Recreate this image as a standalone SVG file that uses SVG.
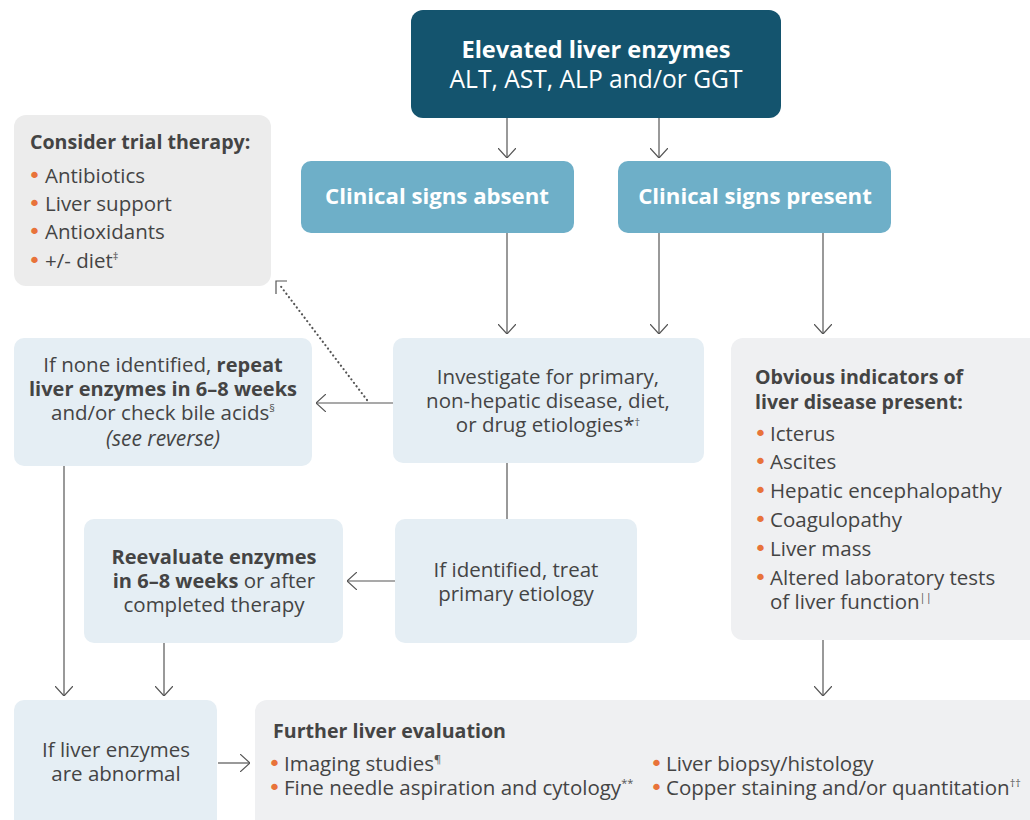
<svg xmlns="http://www.w3.org/2000/svg" width="1030" height="820" viewBox="0 0 1030 820">
<style>
text{font-family:"Open Sans",Lato,"Liberation Sans",sans-serif;fill:#444;font-size:20.5px}
.b{font-weight:bold;font-size:20px}
.h{font-weight:bold;font-size:19.6px}
.w{fill:#fff}
.c{text-anchor:middle}
.t1{font-size:23.6px}
.t1r{font-size:24.6px}
.t2{font-size:22.2px}
.o{fill:#e8733a;font-family:"DejaVu Sans",sans-serif;font-size:22px}
.it{font-style:italic;font-size:21px}
.con{fill:none;stroke:#555;stroke-width:1.2}
.sup{font-size:11px;fill:#555}
</style>
<defs>
<marker id="arr" viewBox="0 0 10 18" refX="10" refY="9" markerWidth="10" markerHeight="18" markerUnits="userSpaceOnUse" orient="auto">
<path d="M0,0 L10,9 L0,18" fill="none" stroke="#555" stroke-width="1.2"/>
</marker>
</defs>
<g id="connectors">
<path class="con" d="M507,118 V158" marker-end="url(#arr)"/>
<path class="con" d="M659,118 V158" marker-end="url(#arr)"/>
<path class="con" d="M507,233 V334" marker-end="url(#arr)"/>
<path class="con" d="M659,233 V334" marker-end="url(#arr)"/>
<path class="con" d="M823,233 V334" marker-end="url(#arr)"/>
<path class="con" d="M393,403 H316" marker-end="url(#arr)"/>
<path d="M367,400 L279,284" fill="none" stroke="#555" stroke-width="2.2" stroke-dasharray="0.1 4.2" stroke-linecap="round"/>
<path d="M276,294 V281 H287" fill="none" stroke="#555" stroke-width="1.2"/>
<path class="con" d="M507,463 V519"/>
<path class="con" d="M395,581 H347" marker-end="url(#arr)"/>
<path class="con" d="M64,466 V696" marker-end="url(#arr)"/>
<path class="con" d="M164,643 V696" marker-end="url(#arr)"/>
<path class="con" d="M823,640 V696" marker-end="url(#arr)"/>
<path class="con" d="M218,763 H250" marker-end="url(#arr)"/>
</g>
<g id="n-elevated">
<rect x="411" y="10" width="370" height="108" rx="12" fill="#14546e"/>
<text class="b w c t1" x="596" y="58">Elevated liver enzymes</text>
<text class="w c t1r" x="596" y="88">ALT, AST, ALP and/or GGT</text>
</g>
<g id="n-absent">
<rect x="301" y="161" width="273" height="72" rx="10" fill="#6eafc8"/>
<text class="b w c t2" x="437" y="204">Clinical signs absent</text>
</g>
<g id="n-present">
<rect x="618" y="161" width="273" height="72" rx="10" fill="#6eafc8"/>
<text class="b w c t2" x="755" y="204">Clinical signs present</text>
</g>
<g id="n-trial">
<rect x="14" y="115" width="257" height="171" rx="12" fill="#ececec"/>
<text class="h" x="30" y="149">Consider trial therapy:</text>
<text class="o" x="28" y="183">•</text><text x="45" y="183">Antibiotics</text>
<text class="o" x="28" y="211">•</text><text x="45" y="211">Liver support</text>
<text class="o" x="28" y="239">•</text><text x="45" y="239">Antioxidants</text>
<text class="o" x="28" y="268">•</text><text x="45" y="268">+/- diet<tspan class="sup" dy="-8">‡</tspan></text>
</g>
<g id="n-none">
<rect x="14" y="338" width="298" height="128" rx="10" fill="#e5eef4"/>
<text class="c" x="163" y="372">If none identified, <tspan class="b">repeat</tspan></text>
<text class="c b" x="163" y="396">liver enzymes in 6–8 weeks</text>
<text class="c" x="163" y="420">and/or check bile acids<tspan class="sup" dy="-8">§</tspan></text>
<text class="c it" x="163" y="446">(see reverse)</text>
</g>
<g id="n-investigate">
<rect x="393" y="338" width="311" height="125" rx="10" fill="#e5eef4"/>
<text class="c" x="548" y="384">Investigate for primary,</text>
<text class="c" x="548" y="408">non-hepatic disease, diet,</text>
<text class="c" x="548" y="432">or drug etiologies*<tspan class="sup" dy="-6">†</tspan></text>
</g>
<g id="n-obvious">
<rect x="731" y="338" width="320" height="302" rx="12" fill="#eff0f2"/>
<text class="h" x="755" y="384">Obvious indicators of</text>
<text class="h" x="755" y="409">liver disease present:</text>
<text class="o" x="754" y="441">•</text><text x="770" y="441">Icterus</text>
<text class="o" x="754" y="469">•</text><text x="770" y="469">Ascites</text>
<text class="o" x="754" y="498">•</text><text x="770" y="498">Hepatic encephalopathy</text>
<text class="o" x="754" y="527">•</text><text x="770" y="527">Coagulopathy</text>
<text class="o" x="754" y="556">•</text><text x="770" y="556">Liver mass</text>
<text class="o" x="754" y="585">•</text><text x="770" y="585">Altered laboratory tests</text>
<text x="770" y="609">of liver function<tspan class="sup" dy="-8">||</tspan></text>
</g>
<g id="n-identified">
<rect x="395" y="519" width="242" height="124" rx="10" fill="#e5eef4"/>
<text class="c" x="516" y="577">If identified, treat</text>
<text class="c" x="516" y="601">primary etiology</text>
</g>
<g id="n-reevaluate">
<rect x="84" y="519" width="259" height="124" rx="10" fill="#e5eef4"/>
<text class="c b" x="214" y="564">Reevaluate enzymes</text>
<text class="c" x="214" y="588"><tspan class="b">in 6–8 weeks</tspan> or after</text>
<text class="c" x="214" y="612">completed therapy</text>
</g>
<g id="n-abnormal">
<rect x="14" y="700" width="203" height="140" rx="10" fill="#e5eef4"/>
<text class="c" x="116" y="757">If liver enzymes</text>
<text class="c" x="116" y="781">are abnormal</text>
</g>
<g id="n-further">
<rect x="255" y="700" width="800" height="140" rx="12" fill="#eff0f2"/>
<text class="h" x="273" y="738">Further liver evaluation</text>
<text class="o" x="268" y="771">•</text><text x="284" y="771">Imaging studies<tspan class="sup" dy="-8">¶</tspan></text>
<text class="o" x="268" y="795">•</text><text x="284" y="795">Fine needle aspiration and cytology<tspan class="sup" dy="-8">**</tspan></text>
<text class="o" x="650" y="771">•</text><text x="666" y="771">Liver biopsy/histology</text>
<text class="o" x="650" y="795">•</text><text x="666" y="795">Copper staining and/or quantitation<tspan class="sup" dy="-8">††</tspan></text>
</g>
</svg>
